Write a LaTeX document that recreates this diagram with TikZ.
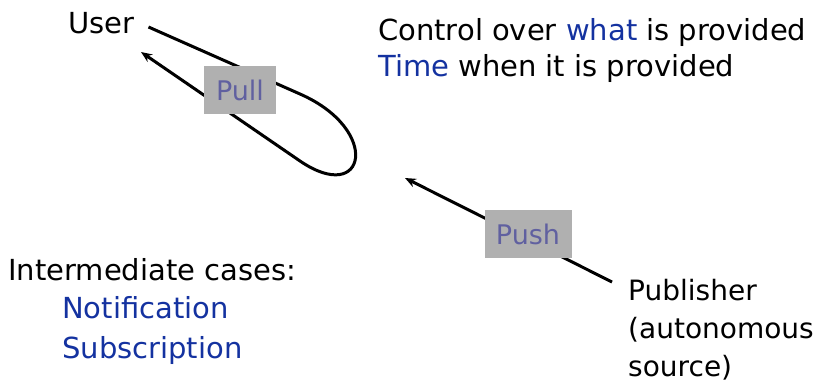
\documentclass[tikz,border=0pt]{standalone}
\usepackage{fontspec}
\setmainfont{DejaVu Sans}
\usetikzlibrary{arrows.meta}
\definecolor{itemblue}{RGB}{20,50,160}
\definecolor{tagtext}{RGB}{96,96,160}
\definecolor{taggray}{RGB}{176,176,176}
\tikzset{
  txt/.style={inner sep=0pt,font=\fontsize{29}{38}\selectfont},
  tag/.style={fill=taggray,text=tagtext,inner sep=0pt,minimum width=72pt,minimum height=48pt,font=\fontsize{27}{30}\selectfont},
  flow/.style={line width=3pt,-{Stealth[length=11pt,width=9pt]}}
}
\begin{document}
\begin{tikzpicture}[x=1pt,y=-1pt]
\useasboundingbox (0,0) rectangle (818,389);
% actors
\node[txt,anchor=base west] (user) at (68,33) {User};
\node[txt,anchor=north west,align=left,font=\fontsize{28}{38}\selectfont] (pub) at (628,279) {Publisher\\(autonomous\\source)};
% what the user controls
\node[txt,anchor=base west] (ctl) at (378,40) {Control over \textcolor{itemblue}{what} is provided};
\node[txt,anchor=base west] (tim) at (378,76) {\textcolor{itemblue}{Time} when it is provided};
% pull loop
\coordinate (pullfar) at (300,94);
\coordinate (pullback) at (300,161);
\draw[flow] (user.base east) ++(14,-6) -- (pullfar) .. controls (382,130) and (366,206) .. (pullback) -- (141,52);
\node[tag] (pull) at (240,90) {Pull};
% push
\coordinate (pushfrom) at (612,282);
\coordinate (pushto) at (405,178);
\draw[flow] (pushfrom) -- (pushto);
\node[tag,minimum width=87pt] (push) at (528,234) {Push};
% in between
\node[txt,anchor=base west] (mid) at (8,280) {Intermediate cases:};
\node[txt,anchor=base west,text=itemblue] (note) at (62,318) {Notification};
\node[txt,anchor=base west,text=itemblue] (subs) at (62,358) {Subscription};
\end{tikzpicture}
\end{document}
